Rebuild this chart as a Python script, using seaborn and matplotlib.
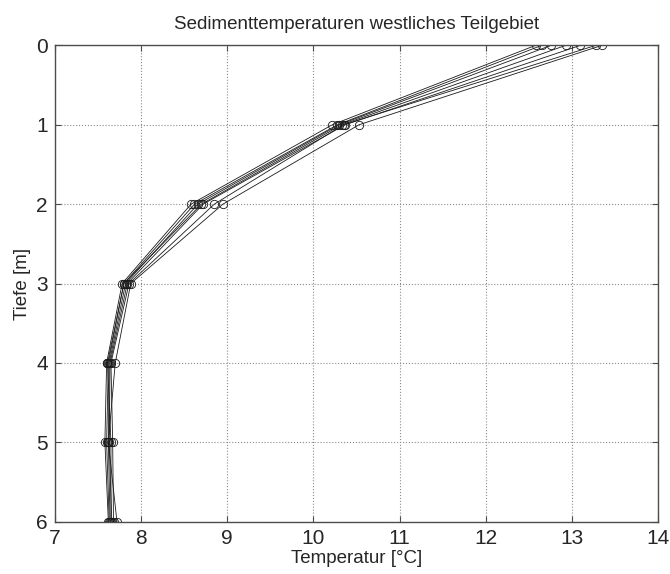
import numpy as np
import pandas as pd
import seaborn as sns
import matplotlib
matplotlib.use("Agg")
import matplotlib.pyplot as plt

# Tiefen [m]
depths = [0, 1, 2, 3, 4, 5, 6]

# Temperaturprofile (je Messstelle)
p1 = [12.58, 10.22, 8.58, 7.78, 7.60, 7.58, 7.62]
p2 = [12.65, 10.28, 8.62, 7.80, 7.62, 7.60, 7.63]
p3 = [12.76, 10.30, 8.66, 7.82, 7.63, 7.62, 7.64]
p4 = [12.93, 10.33, 8.70, 7.80, 7.61, 7.65, 7.65]
p5 = [13.10, 10.37, 8.72, 7.84, 7.64, 7.63, 7.66]
p6 = [13.28, 10.35, 8.85, 7.86, 7.65, 7.67, 7.68]
p7 = [13.35, 10.53, 8.95, 7.88, 7.70, 7.62, 7.72]
profiles = [p1, p2, p3, p4, p5, p6, p7]

rows = []
for i, prof in enumerate(profiles):
    for d, t in zip(depths, prof):
        rows.append({"profile": i, "depth": d, "temp": t})
df = pd.DataFrame(rows)

sns.set_style("white")
plt.rcParams['font.family'] = ['Liberation Sans', 'DejaVu Sans']

fig = plt.figure(figsize=(6.7, 5.74), dpi=100)
ax = fig.add_axes([0.082, 0.091, 0.9, 0.830])

sns.lineplot(data=df, x="temp", y="depth", units="profile", estimator=None,
             sort=False, color="0.1", lw=0.6, marker="o", markersize=6,
             markerfacecolor="none", markeredgecolor="0.1", markeredgewidth=0.6,
             ax=ax, legend=False)

ax.set_xlim(7, 14)
ax.set_ylim(6, 0)
ax.set_xticks(range(7, 15))
ax.set_yticks(range(0, 7))
ax.grid(True, linestyle=":", color="0.55", lw=0.8)
for s in ax.spines.values():
    s.set_visible(True)
    s.set_color("0.3")
    s.set_linewidth(1.0)
ax.tick_params(direction="in", length=4, labelsize=15, top=True, right=True,
               bottom=True, left=True, color="0.3", pad=5)
ax.set_xlabel("Temperatur [°C]", fontsize=13.5, labelpad=2)
ax.set_ylabel("Tiefe [m]", fontsize=13.5, labelpad=4)
ax.set_title("Sedimenttemperaturen westliches Teilgebiet", fontsize=13.5, pad=12)

fig.savefig("out.png", dpi=100)
